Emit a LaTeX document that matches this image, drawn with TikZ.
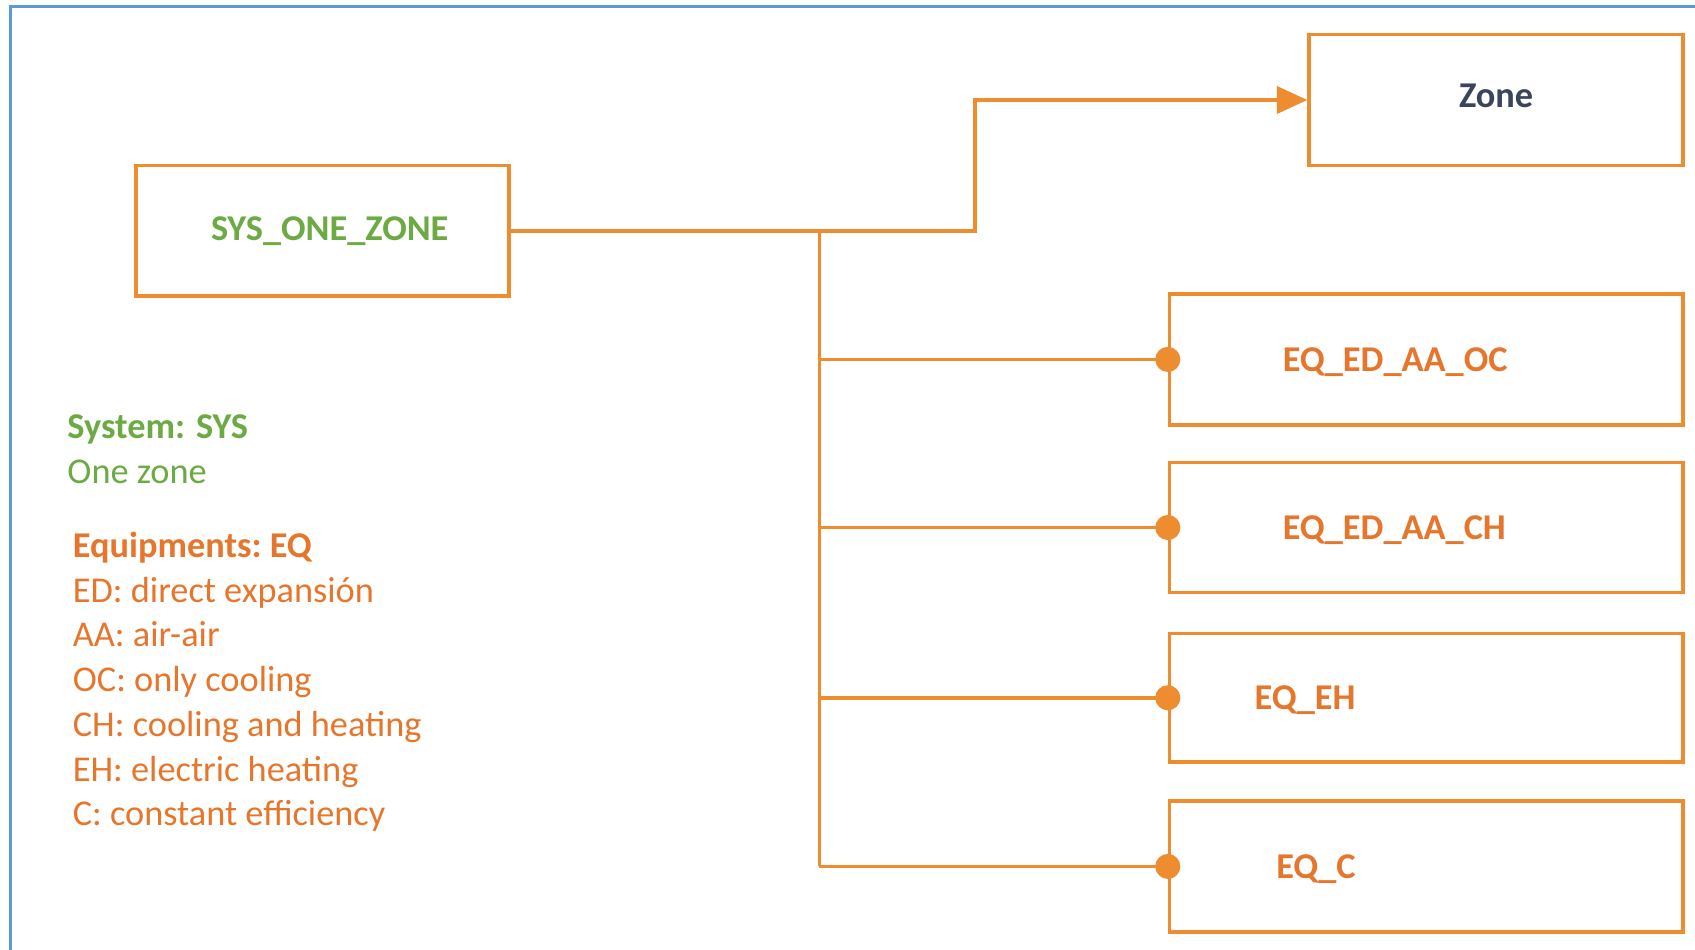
\documentclass[tikz,border=0pt]{standalone}
\usepackage{fontspec}
\setmainfont{Carlito}
\usepackage{xcolor}
\definecolor{lineorange}{RGB}{238,140,48}
\definecolor{textorange}{RGB}{230,118,44}
\definecolor{sysgreen}{RGB}{108,170,68}
\definecolor{zonetext}{RGB}{58,68,90}
\definecolor{frameblue}{RGB}{91,155,213}
\usepackage{tikz}
\usetikzlibrary{arrows.meta,positioning,calc}

\begin{document}
\begin{tikzpicture}[
  x=0.5pt, y=0.5pt,
  unitbox/.style={draw=lineorange, line width=1.7pt, fill=white, inner sep=0pt, minimum height=60.5pt},
  boxtext/.style={font=\fontsize{16.8}{20}\selectfont\bfseries, inner sep=0pt},
  link/.style={draw=lineorange, line width=1.6pt},
  arrow/.style={link, -{Triangle[length=14pt, width=12.5pt]}},
  legend/.style={font=\fontsize{16.8}{20.7}\selectfont, align=left, inner sep=0pt, anchor=base west}
]
\useasboundingbox (0,0) rectangle (1568,878);
\draw[frameblue, line width=1.3pt] (10,-5) -- (10,872) -- (1575,872);

% system and zone
\node[unitbox, minimum width=172.5pt] (sys) at (298.5,664.5) {};
\node[boxtext, text=sysgreen] (systext) at (305,664.5) {SYS\_ONE\_ZONE};
\node[unitbox, minimum width=173pt] (zone) at (1384,785.5) {};
\node[boxtext, text=zonetext] (zonetext) at (1384,789) {Zone};

% equipments
\node[unitbox, minimum width=237.5pt] (oc) at (1319.5,545.5) {};
\node[unitbox, minimum width=237.5pt, minimum height=60pt] (ch) at (1319.5,390) {};
\node[unitbox, minimum width=237.5pt, minimum height=59.5pt] (eh) at (1319.5,232.5) {};
\node[unitbox, minimum width=237.5pt] (eqc) at (1319.5,76.5) {};
\node[boxtext, text=textorange, anchor=base west] (octext) at ($(oc.west)+(106,-11)$) {EQ\_ED\_AA\_OC};
\node[boxtext, text=textorange, anchor=base west] (chtext) at ($(ch.west)+(106,-11)$) {EQ\_ED\_AA\_CH};
\node[boxtext, text=textorange, anchor=base west] (ehtext) at ($(eh.west)+(80,-11)$) {EQ\_EH};
\node[boxtext, text=textorange, anchor=base west] (ctext) at ($(eqc.west)+(100,-11)$) {EQ\_C};

% connectors
\coordinate (bend) at (902,664.5);
\coordinate (bus) at (758,664.5);
\draw[arrow] (sys.east) -- (bend) |- (zone.west);
\draw[link] (bus) -- (bus |- eqc.west);
\draw[link] (bus |- oc.west) -- (oc.west);
\draw[link] (bus |- ch.west) -- (ch.west);
\draw[link] (bus |- eh.west) -- (eh.west);
\draw[link] (bus |- eqc.west) -- (eqc.west);
\fill[lineorange] (oc.west) circle (5.8pt);
\fill[lineorange] (ch.west) circle (5.8pt);
\fill[lineorange] (eh.west) circle (5.8pt);
\fill[lineorange] (eqc.west) circle (5.8pt);

% legend
\node[legend, text=sysgreen] (syslegend) at (62,431) {\textbf{System: SYS}\\One zone};
\node[legend, text=textorange] (eqlegend) at (67,114) {\textbf{Equipments:\ EQ}\\ED: direct expansión\\AA: air-air\\OC: only cooling\\CH: cooling and heating\\EH: electric heating\\C: constant efficiency};
\end{tikzpicture}
\end{document}
